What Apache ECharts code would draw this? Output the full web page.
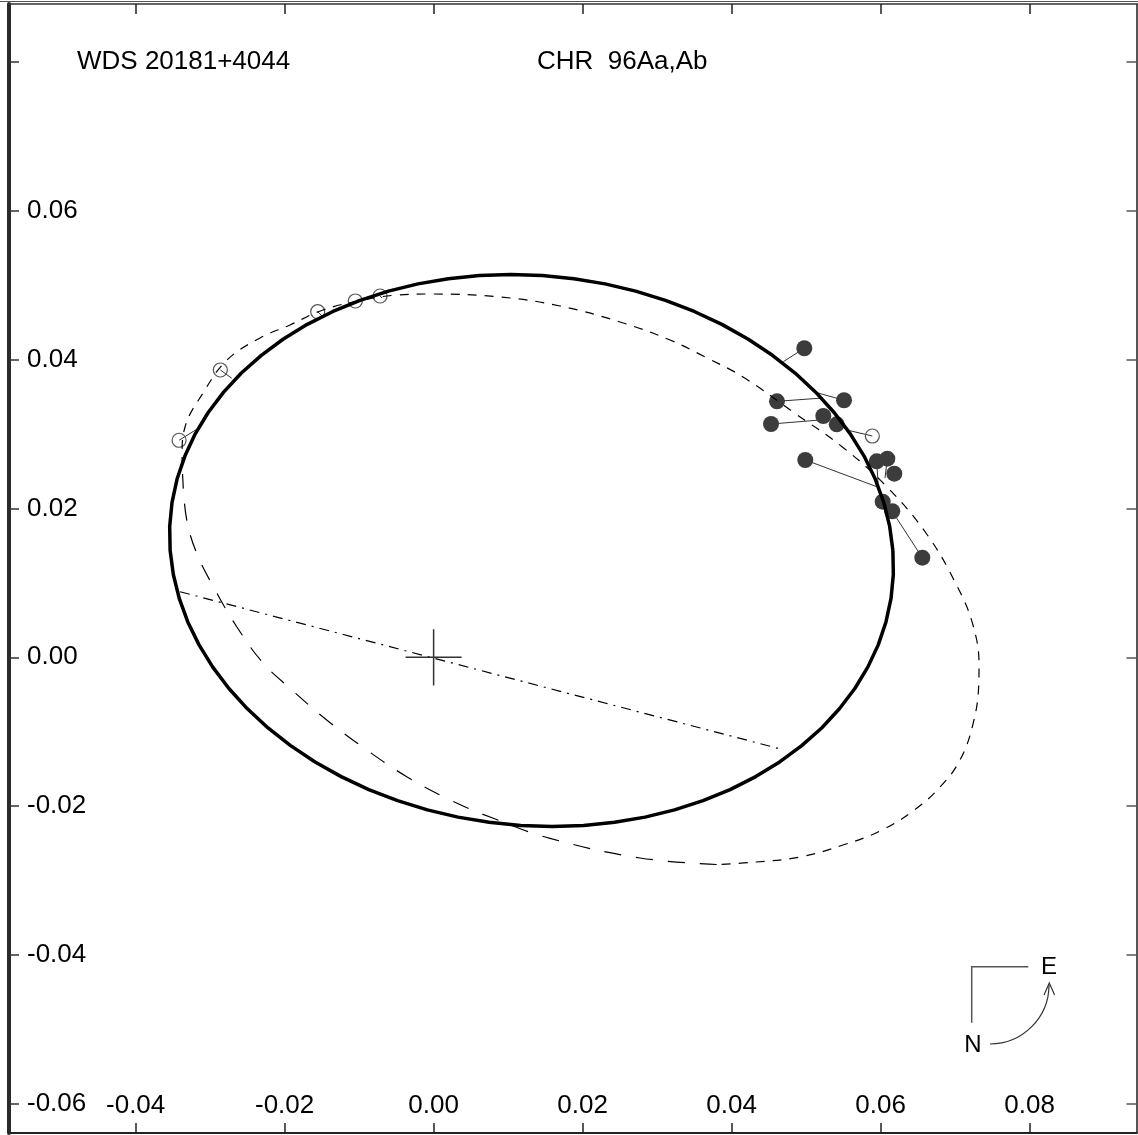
<!DOCTYPE html>
<html><head><meta charset="utf-8">
<script src="https://cdn.jsdelivr.net/npm/echarts@6/dist/echarts.min.js"></script>
<style>html,body{margin:0;padding:0;background:#fff}#c{width:1138px;height:1135px}</style>
</head><body><div id="c"></div>
<script>
const xTicks = [-0.04, -0.02, 0, 0.02, 0.04, 0.06, 0.08];
const yTicks = [-0.06, -0.04, -0.02, 0, 0.02, 0.04, 0.06, 0.08];
const yLabels = [-0.06, -0.04, -0.02, 0, 0.02, 0.04, 0.06];
const titleLeft = 'WDS 20181+4044';
const titleRight = 'CHR  96Aa,Ab';

// current orbit (solid, thick)
const newOrbit = [[0.06165,0.01435],[0.06171,0.01112],[0.06140,0.00791],[0.06072,0.00475],[0.05968,0.00167],[0.05828,-0.00132],[0.05654,-0.00419],[0.05447,-0.00692],[0.05209,-0.00949],[0.04941,-0.01187],[0.04645,-0.01406],[0.04324,-0.01603],[0.03980,-0.01777],[0.03616,-0.01926],[0.03234,-0.02050],[0.02838,-0.02147],[0.02430,-0.02217],[0.02014,-0.02259],[0.01592,-0.02273],[0.01168,-0.02259],[0.00745,-0.02217],[0.00327,-0.02147],[-0.00084,-0.02050],[-0.00484,-0.01926],[-0.00871,-0.01777],[-0.01241,-0.01603],[-0.01591,-0.01406],[-0.01920,-0.01187],[-0.02223,-0.00949],[-0.02500,-0.00692],[-0.02748,-0.00419],[-0.02965,-0.00132],[-0.03149,0.00167],[-0.03300,0.00475],[-0.03415,0.00791],[-0.03494,0.01112],[-0.03537,0.01435],[-0.03543,0.01758],[-0.03512,0.02079],[-0.03444,0.02395],[-0.03339,0.02703],[-0.03200,0.03002],[-0.03026,0.03289],[-0.02819,0.03562],[-0.02581,0.03819],[-0.02313,0.04057],[-0.02017,0.04276],[-0.01696,0.04473],[-0.01352,0.04646],[-0.00988,0.04796],[-0.00606,0.04920],[-0.00210,0.05017],[0.00198,0.05087],[0.00615,0.05129],[0.01036,0.05143],[0.01460,0.05129],[0.01883,0.05087],[0.02301,0.05017],[0.02712,0.04920],[0.03112,0.04796],[0.03499,0.04646],[0.03869,0.04473],[0.04219,0.04276],[0.04548,0.04057],[0.04852,0.03819],[0.05128,0.03562],[0.05376,0.03289],[0.05593,0.03002],[0.05778,0.02703],[0.05928,0.02395],[0.06043,0.02079],[0.06122,0.01758],[0.06165,0.01435]];

// previous orbit (dashed)
const oldOrbit = [[-0.00048,0.04881],[0.00891,0.04841],[0.01697,0.04720],[0.02502,0.04505],[0.03173,0.04263],[0.03643,0.04035],[0.04153,0.03766],[0.04824,0.03296],[0.05495,0.02819],[0.06086,0.02288],[0.06623,0.01650],[0.07026,0.00958],[0.07240,0.00434],[0.07321,-0.00103],[0.07317,-0.00372],[0.07240,-0.00896],[0.07066,-0.01380],[0.06798,-0.01743],[0.06435,-0.02065],[0.05992,-0.02334],[0.05495,-0.02522],[0.04918,-0.02683],[0.04247,-0.02757],[0.03800,-0.02784],[0.02771,-0.02696],[0.01562,-0.02432],[0.00801,-0.02163],[0.00220,-0.01917],[-0.00361,-0.01604],[-0.00898,-0.01245],[-0.01435,-0.00842],[-0.01928,-0.00416],[-0.02286,-0.00081],[-0.02643,0.00411],[-0.02957,0.00949],[-0.03180,0.01397],[-0.03314,0.01845],[-0.03364,0.02342],[-0.03377,0.02718],[-0.03337,0.03094],[-0.03095,0.03551],[-0.02773,0.03994],[-0.02330,0.04290],[-0.01928,0.04465],[-0.01485,0.04666],[-0.00948,0.04800],[-0.00491,0.04867],[-0.00048,0.04881]];

const nodeLine = [[-0.03404,0.00881],[0.04672,-0.01236]];
const crossH = [[-0.00376,0],[0.00376,0]];
const crossV = [[0,-0.00378],[0,0.00378]];

const filledObs = [[0.04976,0.04152],[0.04609,0.03439],[0.05509,0.03453],[0.05231,0.03242],[0.04529,0.03134],[0.05411,0.03130],[0.04989,0.02651],[0.05948,0.02633],[0.06090,0.02668],[0.06184,0.02467],[0.06028,0.02091],[0.06157,0.01962],[0.06560,0.01338]];
const filledFit = [[0.04694,0.03972],[0.05227,0.03484],[0.05160,0.03551],[0.05307,0.03215],[0.05187,0.03188],[0.05428,0.03078],[0.05948,0.02292],[0.05965,0.02342],[0.06059,0.02409],[0.06082,0.02517],[0.06046,0.02046],[0.06114,0.01925],[0.06203,0.01889]];
const openObs = [[-0.03417,0.02916],[-0.02863,0.03860],[-0.01556,0.04643],[-0.01051,0.04787],[-0.00719,0.04854],[0.05889,0.02973]];
const openFit = [[-0.03180,0.03063],[-0.02710,0.03749],[-0.01498,0.04586],[-0.01028,0.04760],[-0.00692,0.04827],[0.05545,0.03054]];

const FONT = '"Liberation Sans", Arial, Helvetica, sans-serif';
const segLong = oldOrbit.slice(23, 38);
const segShort = oldOrbit.slice(37).concat(oldOrbit.slice(1, 24));

const xMin = -0.0570, xMax = 0.09435, yMin = -0.06391, yMax = 0.08777;
const axisCommon = (min, max) => ({
  type: 'value', min: min, max: max, splitLine: {show: false},
  axisLine: {show: true, onZero: false, lineStyle: {color: '#222', width: 2}},
});
const fmt = v => v.toFixed(2);

const option = {
  animation: false,
  backgroundColor: '#fff',
  grid: {left: 9, top: 4, right: 1.5, bottom: 2, containLabel: false},
  xAxis: [
    Object.assign(axisCommon(xMin, xMax), {
      position: 'bottom',
      axisTick: {show: true, inside: true, length: 10, customValues: xTicks, lineStyle: {color: '#222', width: 1.5}},
      axisLabel: {show: true, inside: true, margin: 14, customValues: xTicks, formatter: fmt, fontSize: 26, fontFamily: FONT, color: '#000'}
    }),
    Object.assign(axisCommon(xMin, xMax), {
      position: 'top',
      axisLine: {show: true, onZero: false, lineStyle: {color: '#333', width: 1.5}},
      axisTick: {show: true, inside: true, length: 10, customValues: xTicks, lineStyle: {color: '#222', width: 1.5}},
      axisLabel: {show: false}
    })
  ],
  yAxis: [
    Object.assign(axisCommon(yMin, yMax), {
      position: 'left',
      axisLine: {show: true, onZero: false, lineStyle: {color: '#2a2a2a', width: 4}},
      axisTick: {show: true, inside: true, length: 10, customValues: yTicks, lineStyle: {color: '#333', width: 1.5}},
      axisLabel: {show: true, inside: true, margin: 18, customValues: yLabels, formatter: fmt, fontSize: 26, fontFamily: FONT, color: '#000'}
    }),
    Object.assign(axisCommon(yMin, yMax), {
      position: 'right',
      axisLine: {show: true, onZero: false, lineStyle: {color: '#555', width: 2}},
      axisTick: {show: true, inside: true, length: 10, customValues: yTicks, lineStyle: {color: '#555', width: 1.5}},
      axisLabel: {show: false}
    })
  ],
  graphic: [
    {type: 'line', shape: {x1: 0, y1: 1.5, x2: 1138, y2: 1.5}, style: {stroke: '#555', lineWidth: 1.2}, silent: true},
    {type: 'text', x: 77, y: 62, style: {text: titleLeft, fontSize: 26, fontFamily: FONT, fill: '#000', align: 'left', verticalAlign: 'middle'}},
    {type: 'text', x: 537, y: 62, style: {text: titleRight, fontSize: 26, fontFamily: FONT, fill: '#000', align: 'left', verticalAlign: 'middle'}},
    {type: 'polyline', shape: {points: [[971.7, 1022.7], [971.7, 966.7], [1028.3, 966.7]]}, style: {stroke: '#555', lineWidth: 1.5, fill: null}},
    {type: 'text', x: 1049, y: 967, style: {text: 'E', fontSize: 24, fontFamily: FONT, fill: '#000', align: 'center', verticalAlign: 'middle'}},
    {type: 'text', x: 973, y: 1045, style: {text: 'N', fontSize: 24, fontFamily: FONT, fill: '#000', align: 'center', verticalAlign: 'middle'}},
    {type: 'bezierCurve', shape: {x1: 990, y1: 1044, x2: 1049, y2: 985, cpx1: 1022.6, cpy1: 1044, cpx2: 1049, cpy2: 1017.5}, style: {stroke: '#333', lineWidth: 1.2, fill: null}},
    {type: 'polyline', shape: {points: [[1044, 995], [1049.3, 983], [1054.6, 995]]}, style: {stroke: '#333', lineWidth: 1.2, fill: null}}
  ],
  series: [
    {type: 'line', data: segLong, showSymbol: false, smooth: 0.4, silent: true,
     lineStyle: {color: '#000', width: 1.2, type: [17, 15]}},
    {type: 'line', data: segShort, showSymbol: false, smooth: 0.4, silent: true,
     lineStyle: {color: '#000', width: 1.2, type: [9, 8]}},
    {type: 'line', data: newOrbit, showSymbol: false, smooth: false, silent: true,
     lineStyle: {color: '#000', width: 3.5, join: 'round'}},
    {type: 'line', data: nodeLine, showSymbol: false, silent: true,
     lineStyle: {color: '#000', width: 1.2, type: [10, 6, 2, 6]}},
    {type: 'line', data: crossH, showSymbol: false, silent: true, lineStyle: {color: '#333', width: 1.5}},
    {type: 'line', data: crossV, showSymbol: false, silent: true, lineStyle: {color: '#333', width: 1.5}},
    {type: 'lines', coordinateSystem: 'cartesian2d', silent: true,
     data: filledObs.map((p, i) => ({coords: [p, filledFit[i]]})).concat(openObs.map((p, i) => ({coords: [p, openFit[i]]}))),
     lineStyle: {color: '#333', width: 1, opacity: 1}},
    {type: 'scatter', data: openObs, symbol: 'circle', symbolSize: 14, silent: true,
     itemStyle: {color: 'rgba(0,0,0,0)', borderColor: '#555', borderWidth: 1.2, opacity: 1}},
    {type: 'scatter', data: filledObs, symbol: 'circle', symbolSize: 16, silent: true,
     itemStyle: {color: '#3c3c3c', opacity: 1}}
  ]
};
const chart = echarts.init(document.getElementById('c'), null, {renderer: 'canvas'});
chart.setOption(option);
</script>
</body></html>
